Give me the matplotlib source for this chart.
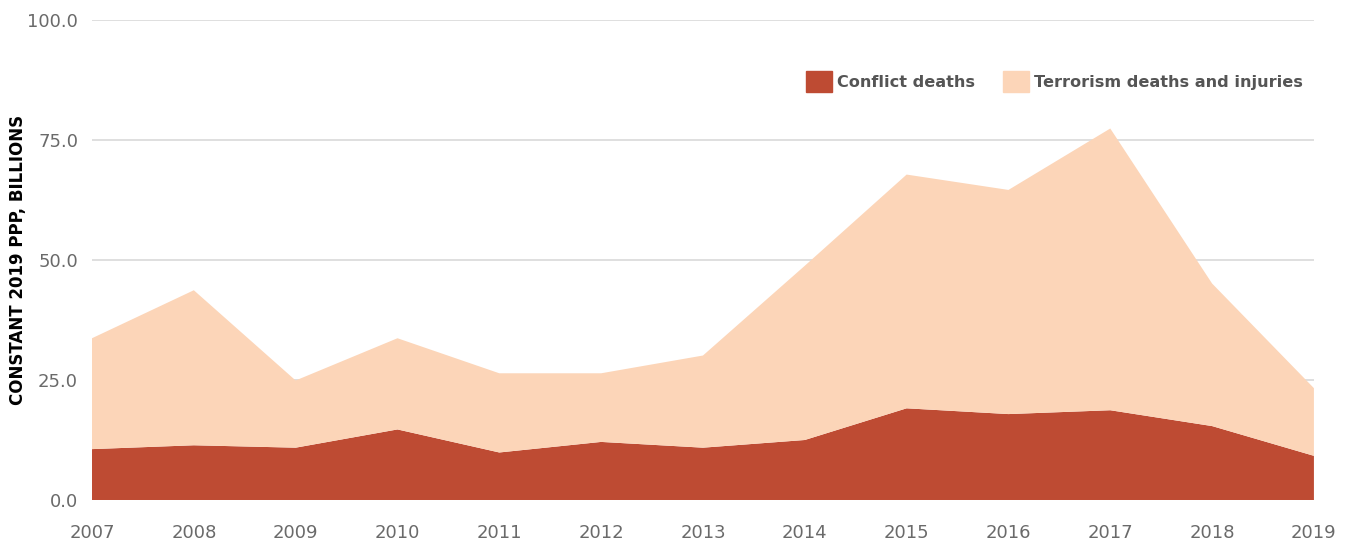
import matplotlib.pyplot as plt
from matplotlib.patches import Patch

years = list(range(2007, 2020))
conflict = [10.6, 11.4, 10.9, 14.7, 9.9, 12.1, 10.9, 12.5, 19.1, 17.9, 18.7, 15.4, 9.2]
total = [33.7, 43.7, 24.9, 33.7, 26.4, 26.4, 30.1, 48.8, 67.8, 64.6, 77.4, 45.1, 23.3]
terrorism = [t - c for t, c in zip(total, conflict)]

conflict_color = "#BE4B33"
terror_color = "#FCD5B8"

plt.rcParams["font.family"] = ["DejaVu Sans"]

fig = plt.figure(figsize=(13.49, 5.41), dpi=100)
ax = fig.add_axes([0.0682, 0.0758, 0.9058, 0.8872])

ax.stackplot(years, conflict, terrorism, colors=[conflict_color, terror_color],
             linewidth=0, zorder=2)

ax.set_xlim(2007, 2019)
ax.set_ylim(0, 100)
ax.set_yticks([0, 25, 50, 75, 100])
ax.set_yticklabels([f"{v:.1f}" for v in [0, 25, 50, 75, 100]])
ax.set_xticks(years)
ax.grid(axis="y", color="#D9D9D9", linewidth=1.2, zorder=0)
ax.set_axisbelow(True)
for side in ["top", "right", "left", "bottom"]:
    ax.spines[side].set_visible(False)
ax.tick_params(length=0, labelsize=13, colors="#6a6a6a")
ax.tick_params(axis="x", pad=17)
ax.tick_params(axis="y", pad=10)

ax.set_ylabel("CONSTANT 2019 PPP, BILLIONS", fontsize=12, fontweight="bold",
              color="black")
ax.yaxis.set_label_coords(-0.0535, 0.5)

handles = [Patch(color=conflict_color, label="Conflict deaths"),
           Patch(color=terror_color, label="Terrorism deaths and injuries")]
leg = ax.legend(handles=handles, ncol=2, frameon=False, loc="upper right",
                bbox_to_anchor=(1.003, 0.925), handlelength=1.6, handleheight=1.7,
                handletextpad=0.35, columnspacing=1.7, fontsize=11.6)
for t in leg.get_texts():
    t.set_color("#555555")
    t.set_fontweight("bold")

fig.savefig("out.png", dpi=100)
